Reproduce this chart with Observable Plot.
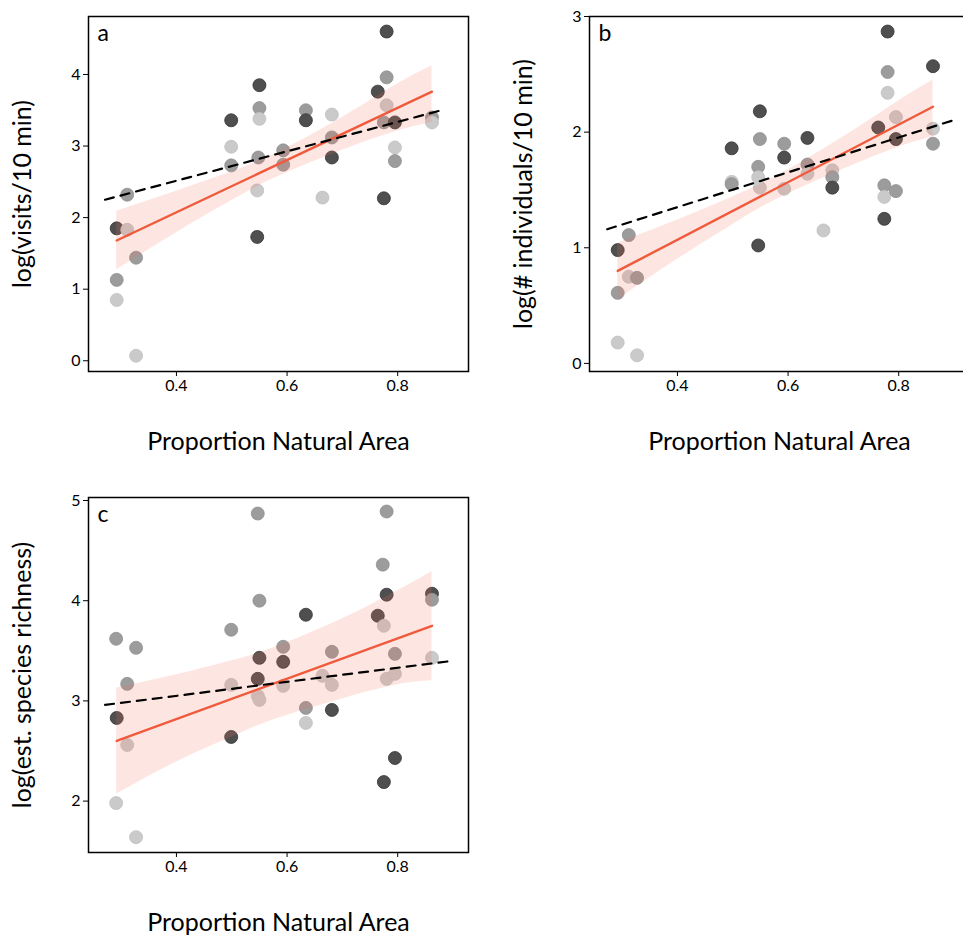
<!DOCTYPE html>
<html><head><meta charset="utf-8">
<script src="https://cdn.jsdelivr.net/npm/d3@7"></script>
<script src="https://cdn.jsdelivr.net/npm/@observablehq/plot@0.6"></script>
<style>
body{margin:0;width:963px;height:935px;overflow:hidden;background:#fff;position:relative;font-family:Lato,sans-serif}
.panel{position:absolute;width:480px}
.panel svg{max-width:none !important}
</style></head><body>
<div id="pa" class="panel" style="left:0;top:0"></div>
<div id="pb" class="panel" style="left:500px;top:0"></div>
<div id="pc" class="panel" style="left:0;top:480px"></div>
<script>
// ---- Panel a: log(visits/10 min)
const aX = [0.292,0.311,0.311,0.327,0.292,0.292,0.327,0.499,0.499,0.499,0.550,0.550,0.550,0.548,0.546,0.546,0.593,0.593,0.634,0.634,0.664,0.681,0.681,0.681,0.764,0.780,0.780,0.780,0.775,0.795,0.795,0.795,0.775,0.862,0.862];
const aY = [1.85,2.32,1.83,1.44,1.13,0.85,0.07,3.36,2.99,2.73,3.85,3.53,3.38,2.84,2.38,1.73,2.94,2.74,3.50,3.36,2.28,3.44,3.12,2.84,3.76,4.60,3.96,3.57,3.33,3.33,2.98,2.79,2.27,3.40,3.33];
const aG = ["dark","mid","light","mid","mid","light","light","dark","light","mid","dark","mid","light","mid","light","dark","mid","mid","mid","dark","light","light","mid","dark","dark","dark","mid","light","mid","dark","light","mid","dark","mid","light"];
const aFitX = [0.292,0.862], aFitY = [1.68,3.76];
const aDashX = [0.271,0.884], aDashY = [2.25,3.51];
const aBandX = [0.292,0.4,0.5,0.58,0.7,0.8,0.862];
const aBandLo = [1.27,1.79,2.24,2.56,2.94,3.21,3.33];
const aBandHi = [2.09,2.37,2.64,2.90,3.40,3.87,4.12];

// ---- Panel b: log(# individuals/10 min)
const bX = [0.780,0.862,0.780,0.780,0.795,0.763,0.795,0.862,0.862,0.774,0.774,0.795,0.774,0.549,0.549,0.546,0.546,0.549,0.546,0.498,0.498,0.498,0.593,0.593,0.593,0.635,0.635,0.635,0.664,0.680,0.680,0.680,0.292,0.312,0.312,0.327,0.292,0.292,0.327];
const bY = [2.87,2.57,2.52,2.34,2.13,2.04,1.94,2.03,1.90,1.54,1.44,1.49,1.25,2.18,1.94,1.70,1.61,1.52,1.02,1.86,1.57,1.55,1.90,1.78,1.51,1.95,1.72,1.64,1.15,1.67,1.61,1.52,0.98,1.11,0.75,0.74,0.61,0.18,0.07];
const bG = ["dark","dark","mid","light","light","dark","dark","light","mid","mid","light","mid","dark","dark","mid","mid","light","light","dark","dark","light","mid","mid","dark","light","dark","mid","light","light","light","mid","dark","dark","mid","light","mid","mid","light","light"];
const bFitX = [0.292,0.862], bFitY = [0.80,2.22];
const bDashX = [0.273,0.897], bDashY = [1.16,2.10];
const bBandX = [0.292,0.4,0.5,0.58,0.7,0.8,0.862];
const bBandLo = [0.55,0.90,1.20,1.42,1.68,1.87,1.96];
const bBandHi = [1.04,1.24,1.44,1.62,1.96,2.27,2.45];

// ---- Panel c: log(est. species richness)
const cX = [0.547,0.780,0.773,0.780,0.862,0.862,0.764,0.775,0.795,0.862,0.780,0.795,0.795,0.775,0.550,0.634,0.499,0.499,0.499,0.550,0.547,0.547,0.550,0.593,0.593,0.593,0.634,0.634,0.664,0.681,0.681,0.681,0.291,0.327,0.311,0.292,0.311,0.291,0.327];
const cY = [4.87,4.89,4.36,4.06,4.07,4.01,3.85,3.75,3.47,3.43,3.22,3.27,2.43,2.19,4.00,3.86,3.71,3.16,2.64,3.43,3.22,3.05,3.01,3.54,3.39,3.15,2.93,2.78,3.25,3.49,3.16,2.91,3.62,3.53,3.17,2.83,2.56,1.98,1.64];
const cG = ["mid","mid","mid","dark","dark","mid","dark","light","mid","light","light","light","dark","dark","mid","dark","mid","light","dark","dark","dark","light","light","mid","dark","light","mid","light","light","mid","light","dark","mid","mid","mid","dark","light","light","light"];
const cFitX = [0.292,0.862], cFitY = [2.60,3.75];
const cDashX = [0.271,0.899], cDashY = [2.96,3.40];
const cBandX = [0.292,0.4,0.5,0.58,0.7,0.8,0.862];
const cBandLo = [2.07,2.39,2.64,2.82,3.02,3.16,3.20];
const cBandHi = [3.13,3.26,3.40,3.54,3.82,4.10,4.29];

const xTicks = [0.4,0.6,0.8];
const xTitle = "Proportion Natural Area";

const shadeFill = {dark:"#4f4f4f", mid:"#9c9c9c", light:"#cacaca"};
const shadeStroke = {dark:"#333333", mid:"#8f8f8f", light:"#c0c0c0"};

function panel(el, cfg) {
  const pts = cfg.x.map((x,i)=>({x, y: cfg.y[i], g: cfg.g[i]}));
  const band = cfg.bandX.map((x,i)=>({x, lo: cfg.lo[i], hi: cfg.hi[i]}));
  const fit = cfg.fitX.map((x,i)=>({x, y: cfg.fitY[i]}));
  const dash = cfg.dashX.map((x,i)=>({x, y: cfg.dashY[i]}));
  const chart = Plot.plot({
    width: cfg.width, height: cfg.height,
    marginLeft: cfg.ml, marginRight: cfg.mr, marginTop: cfg.mt, marginBottom: cfg.mb,
    style: {fontFamily: "Lato, 'Open Sans', sans-serif", fontSize: "16px", color: "black", background: "white", overflow: "visible", maxWidth: "none"},
    x: {domain: [0.241, 0.928]},
    y: {domain: cfg.yDomain},
    marks: [
      Plot.dot(pts, {x:"x", y:"y", r:6.5, fill: d=>shadeFill[d.g], stroke: d=>shadeStroke[d.g], strokeWidth:0.8}),
      Plot.areaY(band, {x:"x", y1:"lo", y2:"hi", fill:"#f4735a", fillOpacity:0.18, curve:"natural"}),
      Plot.line(fit, {x:"x", y:"y", stroke:"#f05a3c", strokeWidth:2.4}),
      Plot.line(dash, {x:"x", y:"y", stroke:"black", strokeWidth:2.2, strokeDasharray:"9,7"}),
      Plot.frame({stroke:"black", strokeWidth:1.5}),
      Plot.axisX({ticks: xTicks, tickFormat: d=>d.toFixed(1), tickSize:5, tickPadding:3, label:null, fontSize:16}),
      Plot.axisY({ticks: cfg.yTicks, tickFormat: d=>String(d), tickSize:5, tickPadding:3, label:null, fontSize:16}),
      Plot.text([xTitle], {frameAnchor:"bottom", dy: 70, fontSize: 25, lineAnchor:"middle", fill:"black"}),
      Plot.text([cfg.yTitle], {frameAnchor:"left", dx: -66, rotate: -90, fontSize: 25, textAnchor:"middle", fill:"black"}),
      Plot.text([cfg.letter], {frameAnchor:"top-left", dx: 9, dy: 8, fontSize: 23, fill:"black"})
    ]
  });
  document.getElementById(el).appendChild(chart);
}

panel("pa", {x:aX, y:aY, g:aG, fitX:aFitX, fitY:aFitY, dashX:aDashX, dashY:aDashY, bandX:aBandX, lo:aBandLo, hi:aBandHi,
  width:480, height:460, ml:88, mr:12, mt:16, mb:89, yDomain:[-0.15,4.81], yTicks:[0,1,2,3,4], yTitle:"log(visits/10 min)", letter:"a"});
panel("pb", {x:bX, y:bY, g:bG, fitX:bFitX, fitY:bFitY, dashX:bDashX, dashY:bDashY, bandX:bBandX, lo:bBandLo, hi:bBandHi,
  width:480, height:460, ml:89, mr:11, mt:16, mb:89, yDomain:[-0.07,3.0], yTicks:[0,1,2,3], yTitle:"log(# individuals/10 min)", letter:"b"});
panel("pc", {x:cX, y:cY, g:cG, fitX:cFitX, fitY:cFitY, dashX:cDashX, dashY:cDashY, bandX:cBandX, lo:cBandLo, hi:cBandHi,
  width:480, height:455, ml:88, mr:12, mt:17, mb:83, yDomain:[1.487,5.03], yTicks:[2,3,4,5], yTitle:"log(est. species richness)", letter:"c"});
</script>
</body></html>
